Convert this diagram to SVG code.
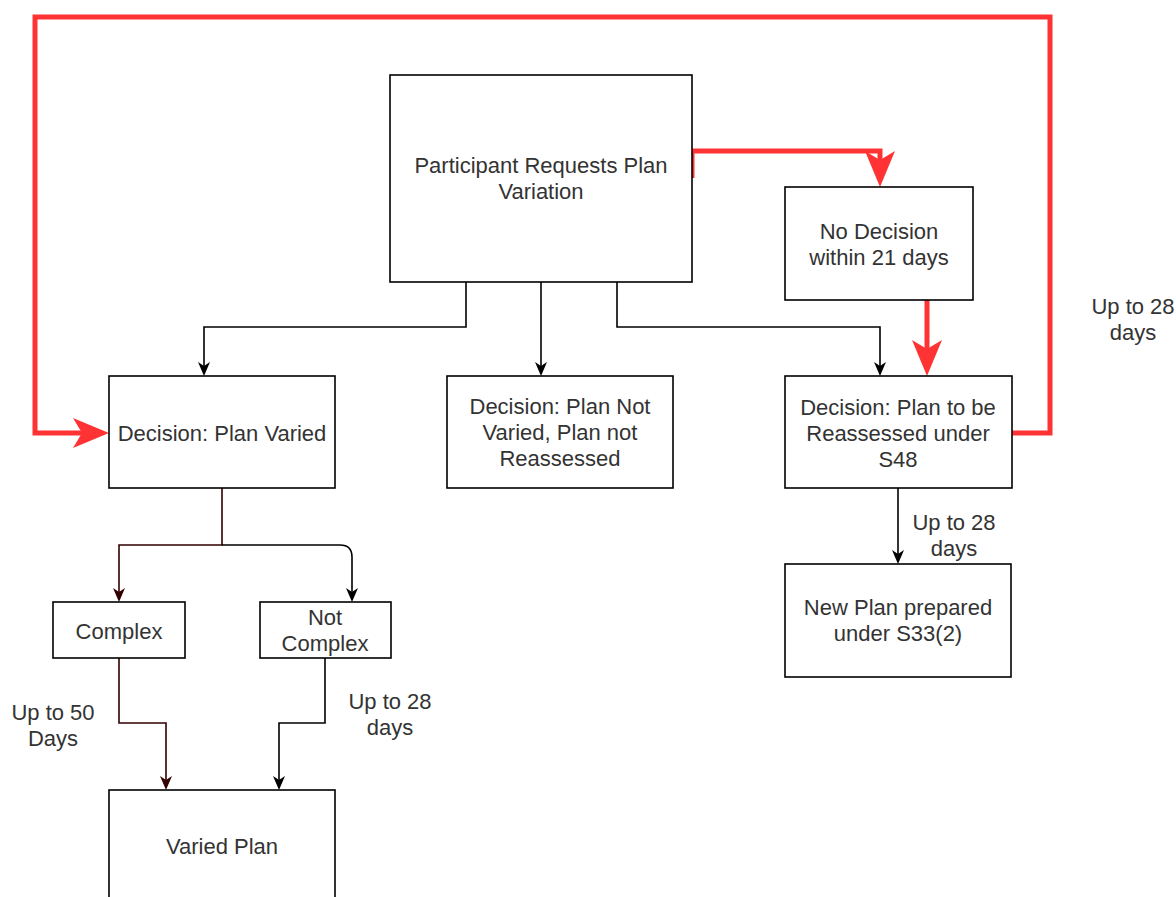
<svg xmlns="http://www.w3.org/2000/svg" width="1176" height="897" viewBox="0 0 1176 897">
<style>
.box{fill:#fff;stroke:#000;stroke-width:1.6}
.t{font-family:"Liberation Sans",Arial,sans-serif;font-size:22px;fill:#333;text-anchor:middle}
.blk{fill:none;stroke:#000;stroke-width:1.6}
.drk{fill:none;stroke:#330000;stroke-width:1.6}
.red{fill:none;stroke:#ff3333;stroke-width:5}
</style>
<defs>
<marker id="ab" viewBox="0 0 14 12" refX="4" refY="6" markerWidth="14" markerHeight="12" markerUnits="userSpaceOnUse" orient="auto">
<path d="M0,0 L14,6 L0,12 L4,6 Z" fill="#000"/>
</marker>
<marker id="ad" viewBox="0 0 14 12" refX="4" refY="6" markerWidth="14" markerHeight="12" markerUnits="userSpaceOnUse" orient="auto">
<path d="M0,0 L14,6 L0,12 L4,6 Z" fill="#330000"/>
</marker>
<marker id="ar" viewBox="0 0 36 30" refX="9" refY="15" markerWidth="36" markerHeight="30" markerUnits="userSpaceOnUse" orient="auto">
<path d="M0,0 L36,15 L0,30 L9,15 Z" fill="#ff3333"/>
</marker>
</defs>
<rect width="1176" height="897" fill="#fff"/>
<g id="connectors">
<path class="red" d="M1012,433 L1050,433 L1050,17 L35,17 L35,433 L82,433" marker-end="url(#ar)"/>
<path class="red" d="M692,178 L692,151 L880,151 L880,160" marker-end="url(#ar)"/>
<path class="red" d="M927,300 L927,349" marker-end="url(#ar)"/>
<path class="blk" d="M466,282 L466,327 L204,327 L204,366" marker-end="url(#ab)"/>
<path class="blk" d="M541,282 L541,366" marker-end="url(#ab)"/>
<path class="blk" d="M617,282 L617,327 L880,327 L880,366" marker-end="url(#ab)"/>
<path class="blk" d="M898,488 L898,554" marker-end="url(#ab)"/>
<path class="drk" d="M222,488 L222,545 L119,545 L119,592" marker-end="url(#ad)"/>
<path class="blk" d="M222,545 L340,545 Q352,545 352,557 L352,592" marker-end="url(#ab)"/>
<path class="drk" d="M119,658 L119,723 L166,723 L166,780" marker-end="url(#ad)"/>
<path class="blk" d="M325,658 L325,723 L279,723 L279,780" marker-end="url(#ab)"/>
<text class="t" x="53" y="720">Up to 50</text>
<text class="t" x="53" y="746">Days</text>
<text class="t" x="390" y="709">Up to 28</text>
<text class="t" x="390" y="735">days</text>
<text class="t" x="954" y="530">Up to 28</text>
<text class="t" x="954" y="556">days</text>
<text class="t" x="1133" y="314">Up to 28</text>
<text class="t" x="1133" y="340">days</text>
</g>
<g id="participant">
<rect class="box" x="390" y="75" width="302" height="207"/>
<text class="t" x="541" y="173">Participant Requests Plan</text>
<text class="t" x="541" y="199">Variation</text>
</g>
<g id="no-decision">
<rect class="box" x="785" y="187" width="188" height="113"/>
<text class="t" x="879" y="239">No Decision</text>
<text class="t" x="879" y="265">within 21 days</text>
</g>
<g id="plan-varied">
<rect class="box" x="109" y="376" width="226" height="112"/>
<text class="t" x="222" y="441">Decision: Plan Varied</text>
</g>
<g id="plan-not-varied">
<rect class="box" x="447" y="376" width="226" height="112"/>
<text class="t" x="560" y="414">Decision: Plan Not</text>
<text class="t" x="560" y="440">Varied, Plan not</text>
<text class="t" x="560" y="466">Reassessed</text>
</g>
<g id="reassessed">
<rect class="box" x="785" y="376" width="227" height="112"/>
<text class="t" x="898" y="415">Decision: Plan to be</text>
<text class="t" x="898" y="441">Reassessed under</text>
<text class="t" x="898" y="467">S48</text>
</g>
<g id="complex">
<rect class="box" x="53" y="602" width="132" height="56"/>
<text class="t" x="119" y="639">Complex</text>
</g>
<g id="not-complex">
<rect class="box" x="260" y="602" width="131" height="56"/>
<text class="t" x="325" y="625">Not</text>
<text class="t" x="325" y="651">Complex</text>
</g>
<g id="new-plan">
<rect class="box" x="785" y="564" width="226" height="113"/>
<text class="t" x="898" y="615">New Plan prepared</text>
<text class="t" x="898" y="641">under S33(2)</text>
</g>
<g id="varied-plan">
<rect class="box" x="109" y="790" width="226" height="120"/>
<text class="t" x="222" y="854">Varied Plan</text>
</g>
</svg>
